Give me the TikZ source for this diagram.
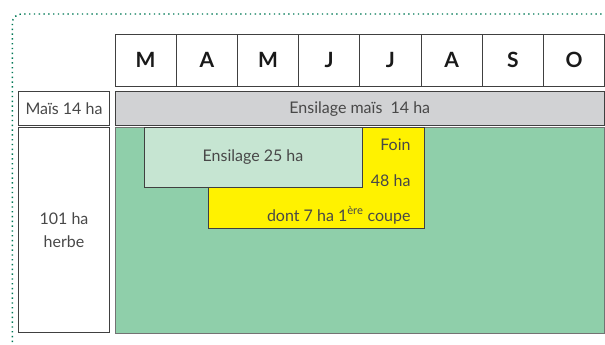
\documentclass[tikz,border=0pt]{standalone}
\usepackage{fontspec}
\setmainfont{Lato}
\usetikzlibrary{positioning}

\definecolor{prairie}{RGB}{143,207,170}
\definecolor{ensil}{RGB}{198,229,210}
\definecolor{foinjaune}{RGB}{255,242,0}
\definecolor{maisgris}{RGB}{209,210,212}
\definecolor{cadre}{RGB}{0,120,85}
\definecolor{texte}{RGB}{72,72,72}

\begin{document}
\begin{tikzpicture}[
x=1pt, y=-1pt,
month/.style={draw=black!75, line width=0.8pt, minimum width=61.2pt, minimum height=52.7pt, inner sep=0pt, outer sep=0pt, text=black!90, font=\fontsize{21}{21}\selectfont\bfseries},
bloc/.style={draw=black!75, line width=0.8pt, inner sep=0pt, outer sep=0pt, text=texte, align=center, font=\fontsize{16}{23}\selectfont},
lbl/.style={inner sep=0pt, text=texte, font=\fontsize{16}{18}\selectfont}
]
\useasboundingbox (0,0) rectangle (605,345);

% cadre pointille
\begin{scope}
\clip (0,0) rectangle (605,345);
\draw[cadre, line width=1.4pt, dash pattern=on 1.4pt off 3.4pt, rounded corners=9pt] (640,14) -- (12.3,14) -- (12.3,360) -- (60,360);
\end{scope}

% mois
\foreach \m [count=\i] in {M,A,M,J,J,A,S,O}
  \node[month] (m\i) at ({115+61.2*(\i-0.5)},60.35) {\m};

% lignes
\node[bloc, minimum width=91.4pt, minimum height=34pt] (mais) at (64,108.3) {Maïs 14 ha};
\node[bloc, fill=maisgris, minimum width=489.5pt, minimum height=34.2pt] (silomais) at (359.75,108.6) {Ensilage maïs\ \ 14 ha};
\node[bloc, minimum width=91.4pt, minimum height=205.4pt] (herbe) at (64,230) {101 ha\\herbe};
\node[bloc, fill=prairie, draw=black!55, minimum width=489.5pt, minimum height=205.7pt] (prairie) at (359.75,230.15) {};

% foin et ensilage d'herbe
\node[bloc, fill=foinjaune, minimum width=215.7pt, minimum height=101pt] (foin) at (316.15,177.8) {};
\node[bloc, fill=ensil, minimum width=218pt, minimum height=60.4pt] (ens25) at (253,157.5) {Ensilage 25 ha};
\node[lbl, anchor=base east] (foin1) at (410.7,150.7) {Foin};
\node[lbl, anchor=base east] (foin2) at (410.7,186) {48 ha};
\node[lbl, anchor=base east] (foin3) at (410.7,221) {dont 7 ha 1\textsuperscript{ère} coupe};
\end{tikzpicture}
\end{document}
